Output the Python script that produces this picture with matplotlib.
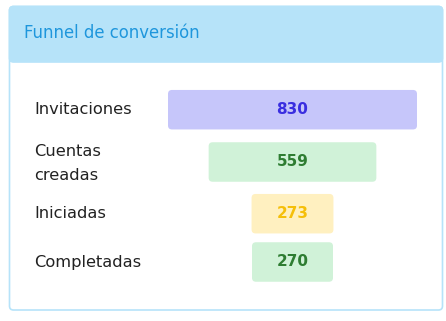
import matplotlib.pyplot as plt
from matplotlib.patches import FancyBboxPatch

stages = ['Invitaciones', 'Cuentas\ncreadas', 'Iniciadas', 'Completadas']
values = [830, 559, 273, 270]
bar_colors = ['#c6c6fa', '#d0f2d8', '#fff0c0', '#d0f2d8']
text_colors = ['#3a2ee0', '#2e7d32', '#f5bf0a', '#2e7d32']
title = 'Funnel de conversión'

W, H = 446, 321
row_y = [109.7, 162, 213.7, 262]   # row centres in pixels (layout)
fig = plt.figure(figsize=(W / 100, H / 100), dpi=100)

# card background in pixel coordinates
bg = fig.add_axes([0, 0, 1, 1])
bg.set_xlim(0, W)
bg.set_ylim(H, 0)
bg.axis('off')
bg.add_patch(FancyBboxPatch((9.5, 6.5), 433, 303.5, boxstyle='round,pad=0,rounding_size=4',
                            facecolor='white', edgecolor='#b6e3f9', lw=1.2))
bg.add_patch(FancyBboxPatch((9.5, 6.5), 433, 55.5, boxstyle='round,pad=0,rounding_size=4',
                            facecolor='#b6e3f9', edgecolor='#b6e3f9', lw=1.2))
bg.add_patch(plt.Rectangle((9.5, 50), 433, 12, facecolor='#b6e3f9', edgecolor='none'))
bg.text(24, 33.5, title, color='#1e96dc', fontsize=11.9, va='center', ha='left',
        family='DejaVu Sans')

# funnel bars: centered around a common axis, y in pixels
ax = fig.add_axes([0, 0, 1, 1], facecolor='none')
k = max(values) / 249.0          # data units per pixel
cx = 292.5
ax.set_xlim(-cx * k, (W - cx) * k)
ax.set_ylim(H, 0)
ax.axis('off')

lefts = [-v / 2 for v in values]
bars = ax.barh(row_y, values, left=lefts, height=39.5, color=bar_colors)
for b in bars:
    x, y = b.get_x(), b.get_y()
    w, h = b.get_width(), b.get_height()
    b.set_visible(False)
    ax.add_patch(FancyBboxPatch((x, y), w, h, boxstyle='round,pad=0,rounding_size=%f' % (4 * k),
                                mutation_aspect=1 / k, facecolor=b.get_facecolor(),
                                edgecolor='none'))

for lab, v, tc, y in zip(stages, values, text_colors, row_y):
    ax.text(0, y, str(v), color=tc, fontsize=11, fontweight='bold', ha='center', va='center',
            family='DejaVu Sans')
    bg.text(34, y + (1.5 if '\n' in lab else 0), lab, color='#222222', fontsize=11.7,
            ha='left', va='center', family='DejaVu Sans', linespacing=1.72)

fig.savefig('out.png', dpi=100)
